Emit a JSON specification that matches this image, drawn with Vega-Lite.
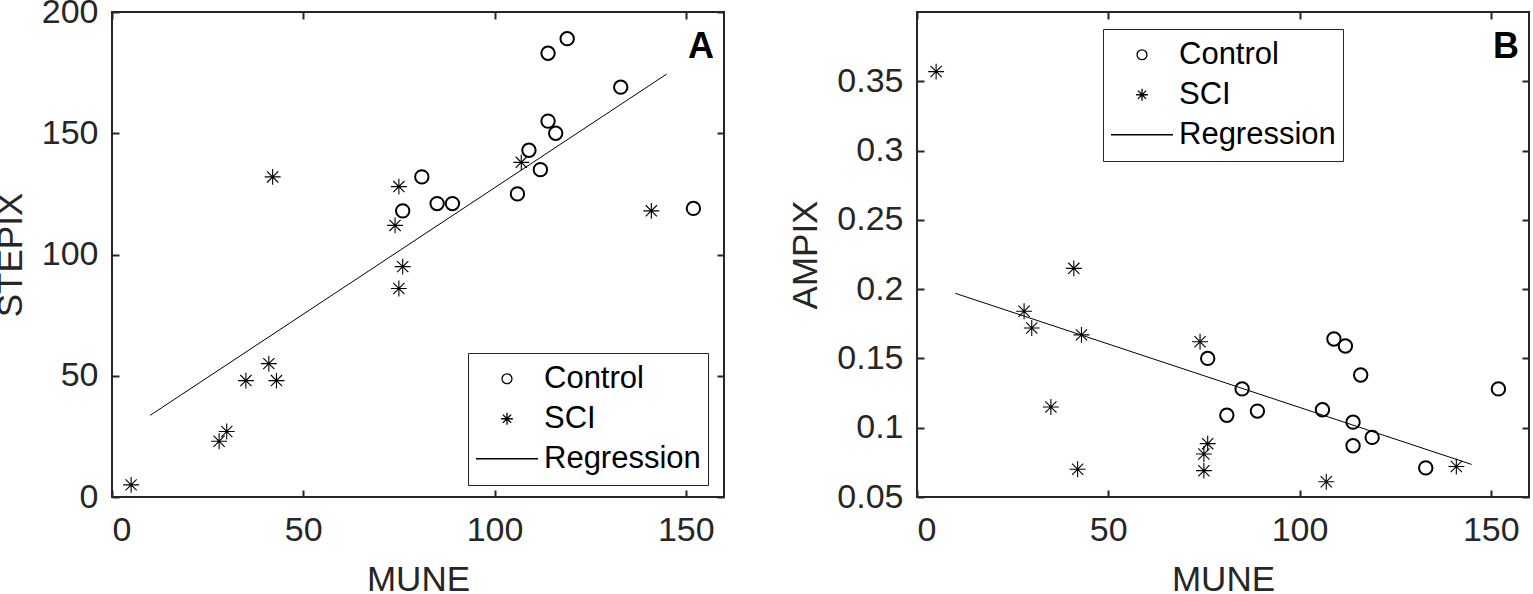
{
  "$schema": "https://vega.github.io/schema/vega-lite/v6.json",
  "background": "white",
  "padding": {"left": -8, "top": -6, "right": 0, "bottom": 0},
  "spacing": 61,
  "config": {
    "font": "Liberation Sans",
    "view": {"stroke": "#262626", "strokeWidth": 2},
    "axis": {
      "grid": false,
      "domain": false,
      "labelFont": "Liberation Sans",
      "labelFontSize": 34,
      "labelColor": "#262626",
      "titleFont": "Liberation Sans",
      "titleFontSize": 35,
      "titleFontWeight": "normal",
      "titleColor": "#262626",
      "tickColor": "#262626",
      "tickWidth": 2,
      "tickSize": 7
    },
    "axisX": {"labelPadding": 16, "titlePadding": 15},
    "axisY": {"labelPadding": 14, "titlePadding": 13},
    "legend": {
      "labelFont": "Liberation Sans",
      "labelFontSize": 31,
      "labelColor": "black",
      "labelOffset": 5,
      "padding": 7,
      "clipHeight": 37.5,
      "rowPadding": 2,
      "symbolSize": 3844,
      "symbolStrokeColor": "black",
      "symbolFillColor": "transparent",
      "symbolStrokeWidth": 1.3,
      "symbolOpacity": 1,
      "strokeColor": "#262626",
      "fillColor": "white",
      "title": null
    }
  },
  "datasets": {
    "stepix": [
      {"group": "Control", "MUNE": 119, "STEPIX": 189},
      {"group": "Control", "MUNE": 114, "STEPIX": 183},
      {"group": "Control", "MUNE": 133, "STEPIX": 169},
      {"group": "Control", "MUNE": 114, "STEPIX": 155},
      {"group": "Control", "MUNE": 116, "STEPIX": 150},
      {"group": "Control", "MUNE": 109, "STEPIX": 143},
      {"group": "Control", "MUNE": 112, "STEPIX": 135},
      {"group": "Control", "MUNE": 81, "STEPIX": 132},
      {"group": "Control", "MUNE": 106, "STEPIX": 125},
      {"group": "Control", "MUNE": 85, "STEPIX": 121},
      {"group": "Control", "MUNE": 89, "STEPIX": 121},
      {"group": "Control", "MUNE": 76, "STEPIX": 118},
      {"group": "Control", "MUNE": 152, "STEPIX": 119},
      {"group": "SCI", "MUNE": 75, "STEPIX": 128},
      {"group": "SCI", "MUNE": 74, "STEPIX": 112},
      {"group": "SCI", "MUNE": 107, "STEPIX": 138},
      {"group": "SCI", "MUNE": 76, "STEPIX": 95},
      {"group": "SCI", "MUNE": 75, "STEPIX": 86},
      {"group": "SCI", "MUNE": 141, "STEPIX": 118},
      {"group": "SCI", "MUNE": 42, "STEPIX": 132},
      {"group": "SCI", "MUNE": 41, "STEPIX": 55},
      {"group": "SCI", "MUNE": 35, "STEPIX": 48},
      {"group": "SCI", "MUNE": 43, "STEPIX": 48},
      {"group": "SCI", "MUNE": 30, "STEPIX": 27},
      {"group": "SCI", "MUNE": 28, "STEPIX": 23},
      {"group": "SCI", "MUNE": 5, "STEPIX": 5}
    ],
    "stepixFit": [
      {"MUNE": 10, "STEPIX": 33.7},
      {"MUNE": 145, "STEPIX": 174.4}
    ],
    "ampix": [
      {"group": "Control", "MUNE": 109, "AMPIX": 0.164},
      {"group": "Control", "MUNE": 112, "AMPIX": 0.159},
      {"group": "Control", "MUNE": 116, "AMPIX": 0.138},
      {"group": "Control", "MUNE": 152, "AMPIX": 0.128},
      {"group": "Control", "MUNE": 76, "AMPIX": 0.150},
      {"group": "Control", "MUNE": 85, "AMPIX": 0.128},
      {"group": "Control", "MUNE": 81, "AMPIX": 0.109},
      {"group": "Control", "MUNE": 89, "AMPIX": 0.112},
      {"group": "Control", "MUNE": 106, "AMPIX": 0.113},
      {"group": "Control", "MUNE": 114, "AMPIX": 0.104},
      {"group": "Control", "MUNE": 119, "AMPIX": 0.093},
      {"group": "Control", "MUNE": 114, "AMPIX": 0.087},
      {"group": "Control", "MUNE": 133, "AMPIX": 0.071},
      {"group": "SCI", "MUNE": 5, "AMPIX": 0.357},
      {"group": "SCI", "MUNE": 41, "AMPIX": 0.215},
      {"group": "SCI", "MUNE": 28, "AMPIX": 0.184},
      {"group": "SCI", "MUNE": 30, "AMPIX": 0.172},
      {"group": "SCI", "MUNE": 43, "AMPIX": 0.167},
      {"group": "SCI", "MUNE": 35, "AMPIX": 0.115},
      {"group": "SCI", "MUNE": 42, "AMPIX": 0.070},
      {"group": "SCI", "MUNE": 74, "AMPIX": 0.162},
      {"group": "SCI", "MUNE": 76, "AMPIX": 0.0885},
      {"group": "SCI", "MUNE": 75, "AMPIX": 0.081},
      {"group": "SCI", "MUNE": 75, "AMPIX": 0.069},
      {"group": "SCI", "MUNE": 107, "AMPIX": 0.061},
      {"group": "SCI", "MUNE": 141, "AMPIX": 0.072}
    ],
    "ampixFit": [
      {"MUNE": 10, "AMPIX": 0.197},
      {"MUNE": 145, "AMPIX": 0.0735}
    ]
  },
  "hconcat": [
    {
      "width": 612,
      "height": 485,
      "title": {"text": "A", "anchor": "end", "frame": "group", "offset": -71, "dx": -10, "fontSize": 36, "fontWeight": "bold", "color": "black", "font": "Liberation Sans"},
      "layer": [
        {
          "data": {"name": "stepix"},
          "mark": {"type": "point", "filled": false, "color": "black", "opacity": 1, "size": 7000},
          "encoding": {
            "x": {"field": "MUNE", "type": "quantitative", "scale": {"domain": [0, 160], "nice": false, "zero": false}, "axis": {"title": "MUNE", "ticks": false, "values": [0, 50, 100, 150]}},
            "y": {"field": "STEPIX", "type": "quantitative", "scale": {"domain": [0, 200], "nice": false, "zero": false}, "axis": {"title": "STEPIX", "ticks": false, "values": [0, 50, 100, 150, 200]}},
            "shape": {
              "field": "group", "type": "nominal",
              "scale": {"domain": ["Control", "SCI", "Regression"], "range": ["M-0.16,0A0.16,0.16 0 1,1 0.16,0A0.16,0.16 0 1,1 -0.16,0Z", "M-0.19,0L0.19,0M0,-0.19L0,0.19M-0.134,-0.134L0.134,0.134M-0.134,0.134L0.134,-0.134", "M-1,0L1,0"]},
              "legend": {"orient": "none", "legendX": 356, "legendY": 341}
            },
            "strokeWidth": {"condition": {"test": "datum.group === 'Control'", "value": 2}, "value": 1.1}
          }
        },
        {
          "data": {"name": "stepixFit"},
          "mark": {"type": "line", "color": "black", "strokeWidth": 1},
          "encoding": {
            "x": {"field": "MUNE", "type": "quantitative", "axis": {"orient": "top", "offset": -485, "labels": false, "title": null, "values": [0, 50, 100, 150]}},
            "y": {"field": "STEPIX", "type": "quantitative", "axis": {"orient": "right", "offset": -612, "labels": false, "title": null, "values": [0, 50, 100, 150, 200]}}
          }
        },
        {
          "data": {"name": "stepixFit"},
          "mark": {"type": "point", "opacity": 0},
          "encoding": {
            "x": {"field": "MUNE", "type": "quantitative", "axis": {"orient": "bottom", "offset": -485, "labels": false, "title": null, "values": [0, 50, 100, 150]}},
            "y": {"field": "STEPIX", "type": "quantitative", "axis": {"orient": "left", "offset": -612, "labels": false, "title": null, "values": [0, 50, 100, 150, 200]}}
          }
        }
      ],
      "resolve": {"axis": {"x": "independent", "y": "independent"}}
    },
    {
      "width": 612,
      "height": 485,
      "title": {"text": "B", "anchor": "end", "frame": "group", "offset": -55, "dx": -10, "fontSize": 36, "fontWeight": "bold", "color": "black", "font": "Liberation Sans"},
      "layer": [
        {
          "data": {"name": "ampix"},
          "mark": {"type": "point", "filled": false, "color": "black", "opacity": 1, "size": 7000},
          "encoding": {
            "x": {"field": "MUNE", "type": "quantitative", "scale": {"domain": [0, 160], "nice": false, "zero": false}, "axis": {"title": "MUNE", "ticks": false, "values": [0, 50, 100, 150]}},
            "y": {"field": "AMPIX", "type": "quantitative", "scale": {"domain": [0.05, 0.4], "nice": false, "zero": false}, "axis": {"title": "AMPIX", "ticks": false, "format": ".2~f", "values": [0.05, 0.1, 0.15, 0.2, 0.25, 0.3, 0.35]}},
            "shape": {
              "field": "group", "type": "nominal",
              "scale": {"domain": ["Control", "SCI", "Regression"], "range": ["M-0.16,0A0.16,0.16 0 1,1 0.16,0A0.16,0.16 0 1,1 -0.16,0Z", "M-0.19,0L0.19,0M0,-0.19L0,0.19M-0.134,-0.134L0.134,0.134M-0.134,0.134L0.134,-0.134", "M-1,0L1,0"]},
              "legend": {"orient": "none", "legendX": 186, "legendY": 17}
            },
            "strokeWidth": {"condition": {"test": "datum.group === 'Control'", "value": 2}, "value": 1.1}
          }
        },
        {
          "data": {"name": "ampixFit"},
          "mark": {"type": "line", "color": "black", "strokeWidth": 1},
          "encoding": {
            "x": {"field": "MUNE", "type": "quantitative", "axis": {"orient": "top", "offset": -485, "labels": false, "title": null, "values": [0, 50, 100, 150]}},
            "y": {"field": "AMPIX", "type": "quantitative", "axis": {"orient": "right", "offset": -612, "labels": false, "title": null, "values": [0.05, 0.1, 0.15, 0.2, 0.25, 0.3, 0.35]}}
          }
        },
        {
          "data": {"name": "ampixFit"},
          "mark": {"type": "point", "opacity": 0},
          "encoding": {
            "x": {"field": "MUNE", "type": "quantitative", "axis": {"orient": "bottom", "offset": -485, "labels": false, "title": null, "values": [0, 50, 100, 150]}},
            "y": {"field": "AMPIX", "type": "quantitative", "axis": {"orient": "left", "offset": -612, "labels": false, "title": null, "values": [0.05, 0.1, 0.15, 0.2, 0.25, 0.3, 0.35]}}
          }
        }
      ],
      "resolve": {"axis": {"x": "independent", "y": "independent"}}
    }
  ],
  "resolve": {"scale": {"shape": "independent"}, "legend": {"shape": "independent"}}
}
